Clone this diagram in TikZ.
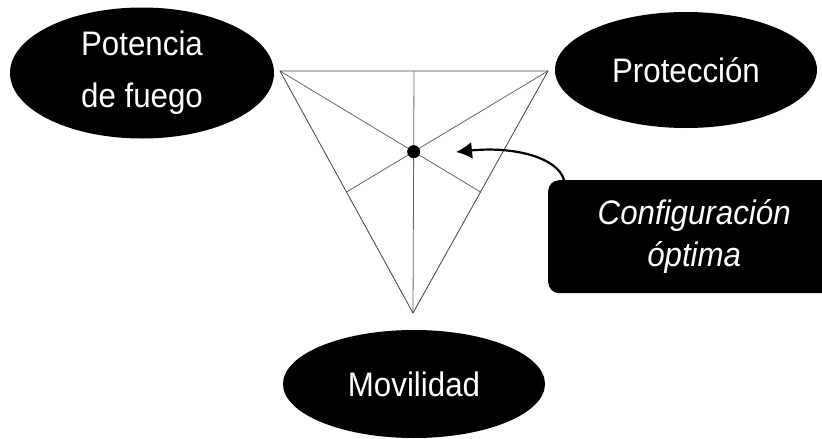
\documentclass[tikz,border=0pt]{standalone}
\usepackage{fontspec}
\setmainfont{Liberation Sans}
\usepackage{graphicx}
\usetikzlibrary{shapes.geometric,arrows.meta,calc}
\newcommand\nar[1]{\scalebox{0.92}[1]{#1}}
\tikzset{
  blob/.style={ellipse, fill=black, draw=none, inner sep=0pt, text=white, align=center,
    font=\fontsize{34}{52}\selectfont},
  tri/.style={draw=black!75, line width=0.8pt},
  med/.style={draw=black!60, line width=0.8pt},
  notebox/.style={rectangle, rounded corners=11pt, fill=black, text=white, align=center,
    minimum width=292pt, minimum height=113pt, inner sep=0pt,
    font=\fontsize{34}{42}\selectfont\itshape},
  pointer/.style={line width=2.2pt, -{Latex[length=16pt,width=17pt]}}
}
\begin{document}
\begin{tikzpicture}[x=1pt,y=-1pt]
\useasboundingbox (0,0) rectangle (822,439);
\begin{scope}
\clip (0,0) rectangle (822,439);
% triangle
\coordinate (A) at (280,71);
\coordinate (B) at (548,71);
\coordinate (C) at (413,313);
\coordinate (O) at ($1/3*(A)+1/3*(B)+1/3*(C)$);
\coordinate (mAB) at ($(A)!0.5!(B)$);
\coordinate (mBC) at ($(B)!0.5!(C)$);
\coordinate (mCA) at ($(C)!0.5!(A)$);
\draw[med] (mAB) -- (C);
\draw[med] (A) -- (mBC);
\draw[med] (B) -- (mCA);
\draw[tri] (A) -- (B) -- (C) -- cycle;
\fill[black] (O) circle (6.5pt);
% ellipses
\node[blob, minimum width=264pt, minimum height=131pt] (fire) at (142,73)
  {\nar{Potencia}\\\nar{de fuego}};
\node[blob, minimum width=262pt, minimum height=116pt] (prot) at (686,70)
  {\nar{Protección}};
\node[blob, minimum width=262pt, minimum height=108pt] (mov) at (414,384)
  {\nar{Movilidad}};
% note box
\node[notebox, anchor=north west] (conf) at (548,180)
  {\nar{Configuración}\\\nar{óptima}};
\coordinate (tip) at (456,152);
\draw[pointer] ([xshift=16pt]conf.north west) .. controls +(-6,-22) and (515,146) .. (tip);
\end{scope}
\end{tikzpicture}
\end{document}
